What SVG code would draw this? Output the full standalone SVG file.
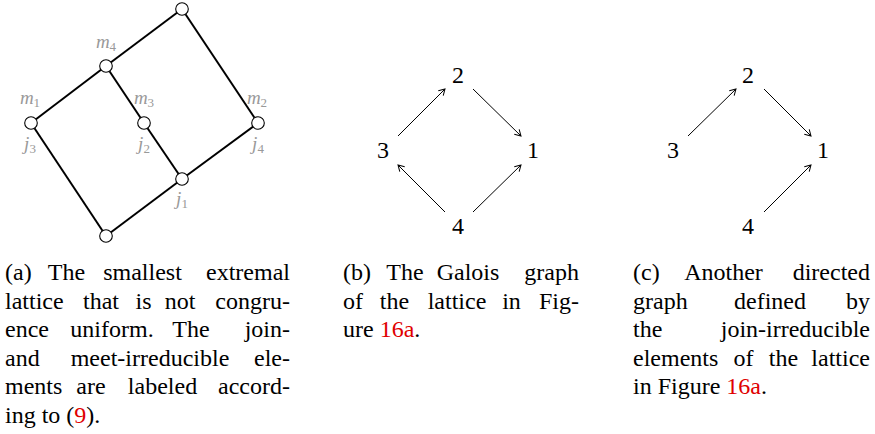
<svg xmlns="http://www.w3.org/2000/svg" width="875" height="434" viewBox="0 0 875 434">
<defs>
<style>
.e{stroke:#000;stroke-width:2;fill:none}
.v{fill:#fff;stroke:#000;stroke-width:1.1}
.lb{font-family:"Liberation Serif",serif;font-style:italic;font-size:19px;fill:#999;text-anchor:middle}
.sb{font-style:normal;font-size:13px}
.d{font-family:"Liberation Serif",serif;font-size:24px;fill:#000;text-anchor:middle}
.a{stroke:#000;stroke-width:1;fill:none;marker-end:url(#ah)}
.c{font-family:"Liberation Serif",serif;font-size:24px;fill:#000}
.m{text-anchor:middle}
.r{text-anchor:end}
.red{fill:#e00000}
</style>
<marker id="ah" markerWidth="10" markerHeight="10" refX="0" refY="0" viewBox="-7 -5 9 10" orient="auto" markerUnits="userSpaceOnUse">
<path d="M-6,-3.5 L0,0 L-6,3.5" fill="none" stroke="#000" stroke-width="1"/>
</marker>
</defs>

<g id="connectors">
<g id="lattice-edges">
<line class="e" x1="182" y1="9" x2="106" y2="66"/>
<line class="e" x1="106" y1="66" x2="31" y2="123"/>
<line class="e" x1="106" y1="66" x2="144" y2="123"/>
<line class="e" x1="182" y1="9" x2="258" y2="123"/>
<line class="e" x1="31" y1="123" x2="106" y2="236"/>
<line class="e" x1="144" y1="123" x2="182" y2="179"/>
<line class="e" x1="258" y1="123" x2="182" y2="179"/>
<line class="e" x1="182" y1="179" x2="106" y2="236"/>
</g>
<g id="galois-arrows">
<line class="a" x1="398" y1="136" x2="445" y2="89"/>
<line class="a" x1="473" y1="89" x2="521" y2="136"/>
<line class="a" x1="445" y1="212" x2="398" y2="165"/>
<line class="a" x1="473" y1="212" x2="521" y2="165"/>
</g>
<g id="other-arrows">
<line class="a" x1="688" y1="136" x2="736" y2="89"/>
<line class="a" x1="764" y1="89" x2="811" y2="136"/>
<line class="a" x1="764" y1="212" x2="811" y2="165"/>
</g>
</g>

<g id="lattice-nodes">
<g id="top"><circle class="v" cx="182" cy="9" r="6.3"/></g>
<g id="m4"><circle class="v" cx="106" cy="66" r="6.3"/><text class="lb" x="106" y="48">m<tspan class="sb" dy="3">4</tspan></text></g>
<g id="m1j3"><circle class="v" cx="31" cy="123" r="6.3"/><text class="lb" x="30" y="104">m<tspan class="sb" dy="3">1</tspan></text><text class="lb" x="30" y="150">j<tspan class="sb" dy="3">3</tspan></text></g>
<g id="m3j2"><circle class="v" cx="144" cy="123" r="6.3"/><text class="lb" x="144" y="104">m<tspan class="sb" dy="3">3</tspan></text><text class="lb" x="144" y="150">j<tspan class="sb" dy="3">2</tspan></text></g>
<g id="m2j4"><circle class="v" cx="258" cy="123" r="6.3"/><text class="lb" x="257" y="104">m<tspan class="sb" dy="3">2</tspan></text><text class="lb" x="258" y="150">j<tspan class="sb" dy="3">4</tspan></text></g>
<g id="j1"><circle class="v" cx="182" cy="179" r="6.3"/><text class="lb" x="182" y="205">j<tspan class="sb" dy="3">1</tspan></text></g>
<g id="bottom"><circle class="v" cx="106" cy="236" r="6.3"/></g>
</g>

<g id="galois-nodes">
<g id="b2"><text class="d" x="458" y="83">2</text></g>
<g id="b3"><text class="d" x="383" y="158">3</text></g>
<g id="b1"><text class="d" x="533" y="158">1</text></g>
<g id="b4"><text class="d" x="458" y="234">4</text></g>
</g>

<g id="other-nodes">
<g id="c2"><text class="d" x="748" y="83">2</text></g>
<g id="c3"><text class="d" x="673" y="158">3</text></g>
<g id="c1"><text class="d" x="823" y="158">1</text></g>
<g id="c4"><text class="d" x="748" y="234">4</text></g>
</g>

<g id="caption-a">
<text class="c" x="5" y="280">(a)</text>
<text class="c m" x="66.5" y="280">The</text>
<text class="c m" x="142.5" y="280">smallest</text>
<text class="c r" x="290" y="280">extremal</text>
<text class="c" x="5" y="309">lattice</text>
<text class="c m" x="101" y="309">that</text>
<text class="c m" x="143.5" y="309">is</text>
<text class="c m" x="180" y="309">not</text>
<text class="c r" x="290" y="309">congru-</text>
<text class="c" x="5" y="337">ence</text>
<text class="c m" x="112" y="337">uniform.</text>
<text class="c m" x="191" y="337">The</text>
<text class="c r" x="290" y="337">join-</text>
<text class="c" x="5" y="366">and</text>
<text class="c m" x="150" y="366">meet-irreducible</text>
<text class="c r" x="290" y="366">ele-</text>
<text class="c" x="5" y="394">ments</text>
<text class="c m" x="91" y="394">are</text>
<text class="c m" x="162.5" y="394">labeled</text>
<text class="c r" x="290" y="394">accord-</text>
<text class="c" x="5" y="423">ing to (<tspan class="red">9</tspan>).</text>
</g>

<g id="caption-b">
<text class="c" x="343" y="280">(b)</text>
<text class="c m" x="405" y="280">The</text>
<text class="c m" x="468" y="280">Galois</text>
<text class="c r" x="579" y="280">graph</text>
<text class="c" x="343" y="309">of</text>
<text class="c m" x="394.5" y="309">the</text>
<text class="c m" x="457" y="309">lattice</text>
<text class="c m" x="511.5" y="309">in</text>
<text class="c r" x="579" y="309">Fig-</text>
<text class="c" x="343" y="337">ure <tspan class="red">16a</tspan>.</text>
</g>

<g id="caption-c">
<text class="c" x="633" y="280">(c)</text>
<text class="c m" x="723.5" y="280">Another</text>
<text class="c r" x="870" y="280">directed</text>
<text class="c" x="633" y="309">graph</text>
<text class="c m" x="770" y="309">defined</text>
<text class="c r" x="870" y="309">by</text>
<text class="c" x="633" y="337">the</text>
<text class="c r" x="870" y="337">join-irreducible</text>
<text class="c" x="633" y="366">elements</text>
<text class="c m" x="743.5" y="366">of</text>
<text class="c m" x="783.5" y="366">the</text>
<text class="c r" x="870" y="366">lattice</text>
<text class="c" x="633" y="394">in Figure <tspan class="red">16a</tspan>.</text>
</g>
</svg>
